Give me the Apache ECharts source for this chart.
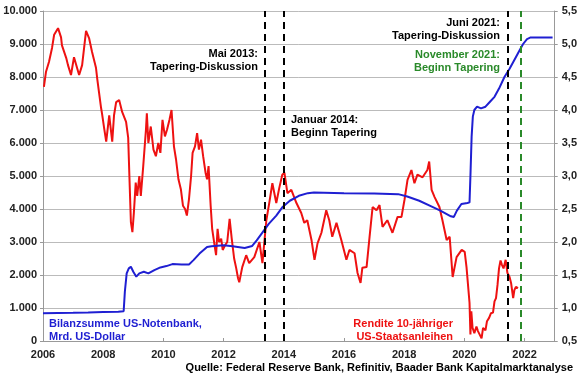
<!DOCTYPE html>
<html>
<head>
<meta charset="utf-8">
<script src="https://cdn.jsdelivr.net/npm/echarts@6/dist/echarts.min.js"></script>
<style>
  html, body { margin: 0; padding: 0; background: #fff; }
  #chart { width: 580px; height: 375px; }
</style>
</head>
<body>
<div id="chart"></div>
<script>
// Bilanzsumme US-Notenbank, Mrd. US-Dollar  [Jahr, Wert]
const balanceSheet = [
  [2006.0, 840], [2006.5, 850], [2007.0, 855], [2007.5, 865], [2008.0, 880], [2008.5, 890],
  [2008.68, 900], [2008.72, 1500], [2008.78, 2050], [2008.85, 2200], [2008.92, 2250],
  [2009.0, 2100], [2009.1, 1950], [2009.2, 2050], [2009.35, 2100], [2009.5, 2050],
  [2009.7, 2150], [2009.9, 2230], [2010.1, 2270], [2010.3, 2330], [2010.6, 2320],
  [2010.85, 2320], [2011.0, 2450], [2011.2, 2650], [2011.45, 2850], [2011.6, 2870],
  [2012.0, 2900], [2012.3, 2870], [2012.7, 2820], [2012.95, 2880], [2013.1, 3050],
  [2013.3, 3300], [2013.5, 3550], [2013.75, 3800], [2013.95, 4050], [2014.2, 4250],
  [2014.5, 4400], [2014.8, 4480], [2015.0, 4500], [2016.0, 4480], [2017.0, 4470],
  [2017.8, 4450], [2018.1, 4380], [2018.5, 4250], [2018.9, 4080], [2019.2, 3950],
  [2019.55, 3780], [2019.65, 3760], [2019.75, 3950], [2019.9, 4150], [2020.1, 4180],
  [2020.17, 4200], [2020.2, 5000], [2020.24, 6200], [2020.28, 6800], [2020.33, 7000],
  [2020.42, 7100], [2020.55, 7050], [2020.7, 7100], [2020.85, 7250], [2021.0, 7400],
  [2021.15, 7650], [2021.33, 8000], [2021.5, 8250], [2021.65, 8500], [2021.83, 8800],
  [2021.95, 9000], [2022.08, 9150], [2022.2, 9200], [2022.93, 9200]
];

// Rendite 10-jähriger US-Staatsanleihen, %  [Jahr, Wert]
const yield10y = [
  [2006.03, 4.35], [2006.10, 4.58], [2006.20, 4.73], [2006.30, 4.94], [2006.37, 5.14],
  [2006.43, 5.17], [2006.50, 5.24], [2006.60, 5.10], [2006.63, 4.98], [2006.77, 4.79],
  [2006.83, 4.68], [2006.93, 4.53], [2007.03, 4.80], [2007.20, 4.53], [2007.30, 4.68],
  [2007.43, 5.20], [2007.53, 5.09], [2007.63, 4.88], [2007.76, 4.64], [2007.80, 4.48],
  [2007.86, 4.27], [2007.93, 4.03], [2007.96, 3.95], [2008.03, 3.73], [2008.10, 3.52],
  [2008.20, 3.92], [2008.30, 3.52], [2008.36, 3.92], [2008.43, 4.12], [2008.53, 4.15],
  [2008.63, 3.97], [2008.76, 3.82], [2008.83, 3.58], [2008.87, 3.0], [2008.92, 2.3],
  [2008.97, 2.15], [2009.02, 2.45], [2009.08, 2.9], [2009.13, 2.7], [2009.20, 3.0],
  [2009.25, 2.7], [2009.33, 3.15], [2009.42, 3.7], [2009.45, 3.95], [2009.50, 3.5],
  [2009.58, 3.75], [2009.67, 3.4], [2009.75, 3.3], [2009.83, 3.5], [2009.90, 3.35],
  [2009.97, 3.85], [2010.05, 3.6], [2010.12, 3.7], [2010.20, 3.85], [2010.27, 4.0],
  [2010.35, 3.45], [2010.42, 3.25], [2010.50, 2.95], [2010.58, 2.8], [2010.65, 2.55],
  [2010.72, 2.5], [2010.78, 2.4], [2010.85, 2.65], [2010.92, 3.0], [2010.97, 3.35],
  [2011.05, 3.45], [2011.12, 3.65], [2011.18, 3.4], [2011.25, 3.55], [2011.32, 3.3],
  [2011.40, 3.05], [2011.45, 2.95], [2011.50, 3.15], [2011.57, 2.55], [2011.62, 2.2],
  [2011.70, 1.95], [2011.75, 1.8], [2011.80, 2.2], [2011.85, 2.0], [2011.92, 2.05],
  [2011.97, 1.88], [2012.05, 1.95], [2012.12, 2.0], [2012.20, 2.35], [2012.27, 2.05],
  [2012.35, 1.75], [2012.42, 1.6], [2012.48, 1.45], [2012.52, 1.39], [2012.62, 1.62],
  [2012.75, 1.80], [2012.85, 1.68], [2013.02, 1.77], [2013.19, 2.00], [2013.29, 1.68],
  [2013.42, 2.33], [2013.52, 2.60], [2013.62, 2.89], [2013.75, 2.59], [2013.85, 2.82],
  [2013.95, 3.02], [2014.02, 3.05], [2014.12, 2.74], [2014.25, 2.79], [2014.42, 2.59],
  [2014.58, 2.44], [2014.68, 2.29], [2014.78, 2.33], [2014.92, 2.03], [2015.02, 1.73],
  [2015.12, 1.98], [2015.25, 2.14], [2015.41, 2.48], [2015.51, 2.33], [2015.61, 2.08],
  [2015.75, 2.29], [2015.91, 2.03], [2016.08, 1.73], [2016.18, 1.88], [2016.35, 1.83],
  [2016.45, 1.53], [2016.55, 1.38], [2016.61, 1.61], [2016.75, 1.62], [2016.85, 2.08],
  [2016.95, 2.53], [2017.08, 2.48], [2017.18, 2.56], [2017.28, 2.23], [2017.44, 2.33],
  [2017.61, 2.14], [2017.78, 2.38], [2017.91, 2.38], [2018.01, 2.64], [2018.11, 2.94],
  [2018.24, 3.09], [2018.34, 2.89], [2018.44, 3.02], [2018.61, 2.98], [2018.77, 3.09],
  [2018.83, 3.22], [2018.91, 2.79], [2019.01, 2.68], [2019.17, 2.53], [2019.27, 2.33],
  [2019.41, 2.03], [2019.51, 2.08], [2019.61, 1.47], [2019.74, 1.77], [2019.91, 1.88],
  [2020.01, 1.85], [2020.07, 1.62], [2020.17, 1.08], [2020.20, 0.6], [2020.23, 0.95],
  [2020.27, 0.7], [2020.33, 0.62], [2020.40, 0.72], [2020.45, 0.65], [2020.50, 0.68],
  [2020.57, 0.54], [2020.62, 0.7], [2020.70, 0.66], [2020.75, 0.8], [2020.82, 0.85],
  [2020.88, 0.92], [2020.95, 0.93], [2021.00, 1.1], [2021.05, 1.15], [2021.10, 1.35],
  [2021.15, 1.6], [2021.20, 1.72], [2021.25, 1.65], [2021.30, 1.6], [2021.37, 1.73],
  [2021.43, 1.53], [2021.50, 1.47], [2021.55, 1.38], [2021.62, 1.15], [2021.66, 1.27],
  [2021.71, 1.32], [2021.78, 1.3]
];

// Tapering-Termine: Mai 2013, Januar 2014, Juni 2021, November 2021
const eventDates = [2013.37, 2014.0, 2021.45, 2021.87];
const eventColors = ['#000', '#000', '#000', '#2a8a2a'];

const FONT = "'Liberation Sans', Arial, sans-serif";
const BLUE = '#1f1fd2';
const RED = '#ee1111';
const GREEN = '#2a8a2a';

const chart = echarts.init(document.getElementById('chart'));

function txt(x, y, text, color, align, size) {
  return {
    type: 'text', x: x, y: y, z: 10,
    style: {
      text: text, fill: color, font: 'bold ' + (size || 11) + 'px ' + FONT,
      align: align, textAlign: align, verticalAlign: 'top', textVerticalAlign: 'top',
      lineHeight: 13
    }
  };
}

chart.setOption({
  animation: false,
  grid: { left: 43, right: 25, top: 11, bottom: 34 },
  xAxis: {
    type: 'value', min: 2006, max: 2023, interval: 2,
    axisLine: { lineStyle: { color: '#999' } },
    axisTick: { inside: true, length: 3, lineStyle: { color: '#999' } },
    splitLine: { show: false },
    axisLabel: {
      color: '#222', fontWeight: 'bold', fontSize: 11, fontFamily: FONT, margin: 8,
      formatter: v => (v > 2022 ? '' : String(v))
    }
  },
  yAxis: [
    {
      type: 'value', min: 0, max: 10000, interval: 1000,
      axisLine: { show: true, lineStyle: { color: '#999' } },
      axisTick: { show: true, length: 3, lineStyle: { color: '#999' } },
      splitLine: { lineStyle: { color: '#bbb' } },
      axisLabel: {
        color: '#222', fontWeight: 'bold', fontSize: 11, fontFamily: FONT, margin: 6,
        formatter: v => (v === 0 ? '0' : (v / 1000).toFixed(0) + '.000')
      }
    },
    {
      type: 'value', min: 0.5, max: 5.5, interval: 0.5, position: 'right',
      axisLine: { show: true, lineStyle: { color: '#999' } },
      axisTick: { show: true, length: 3, lineStyle: { color: '#999' } },
      splitLine: { show: false },
      axisLabel: {
        color: '#222', fontWeight: 'bold', fontSize: 11, fontFamily: FONT, margin: 7,
        formatter: v => v.toFixed(1).replace('.', ',')
      }
    }
  ],
  series: [
    {
      type: 'line', yAxisIndex: 0, data: balanceSheet, showSymbol: false,
      lineStyle: { color: BLUE, width: 2 }, z: 3,
      markLine: {
        silent: true, symbol: 'none', label: { show: false },
        data: eventDates.map((d, i) => ({
          xAxis: d,
          lineStyle: { color: eventColors[i], type: [7, 5], width: 2 }
        }))
      }
    },
    {
      type: 'line', yAxisIndex: 1, data: yield10y, showSymbol: false,
      lineStyle: { color: RED, width: 2 }, z: 2
    }
  ],
  graphic: [
    txt(258, 47, 'Mai 2013:\nTapering-Diskussion', '#000', 'right'),
    txt(291, 113, 'Januar 2014:\nBeginn Tapering', '#000', 'left'),
    txt(500, 16, 'Juni 2021:\nTapering-Diskussion', '#000', 'right'),
    txt(500, 48, 'November 2021:\nBeginn Tapering', GREEN, 'right'),
    txt(49, 317, 'Bilanzsumme US-Notenbank,\nMrd. US-Dollar', BLUE, 'left'),
    txt(453, 317, 'Rendite 10-jähriger\nUS-Staatsanleihen', RED, 'right'),
    txt(573, 361, 'Quelle: Federal Reserve Bank, Refinitiv, Baader Bank Kapitalmarktanalyse', '#000', 'right', 11)
  ]
});
</script>
</body>
</html>
